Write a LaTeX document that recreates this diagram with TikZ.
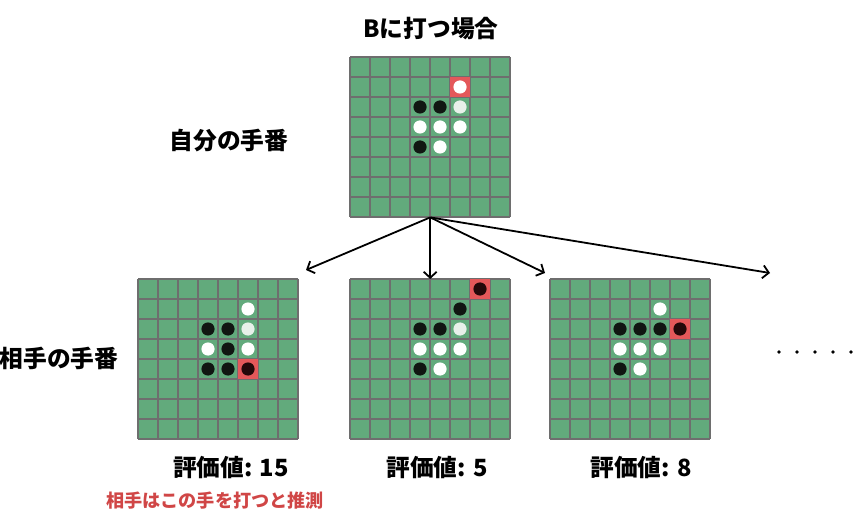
\documentclass[tikz,border=0pt]{standalone}
\usepackage{fontspec}
\newfontfamily\jp{Noto Sans CJK JP}
\usetikzlibrary{arrows.meta}
\definecolor{boardgreen}{RGB}{98,170,124}
\definecolor{gridgray}{RGB}{110,110,110}
\definecolor{cellred}{RGB}{228,88,90}
\definecolor{stoneblack}{RGB}{17,22,18}
\definecolor{stonewhite}{RGB}{255,255,255}
\definecolor{stonegrey}{RGB}{232,240,234}
\definecolor{redstone}{RGB}{36,8,10}
\definecolor{notered}{RGB}{208,70,70}
\newcommand\drawboard[3]{%
  \node[boardbox, anchor=north west] (#1) at (#2,#3) {};
  \foreach \i in {0,...,8} {
    \draw[gridline] (#2+\i*20,#3) -- (#2+\i*20,#3+160);
    \draw[gridline] (#2,#3+\i*20) -- (#2+160,#3+\i*20);
  }}
\newcommand\stone[5]{\fill[#5] (#1+#3*20+10,#2+#4*20+10) circle[radius=6.6];}
\newcommand\redcell[4]{\fill[cellred] (#1+#3*20,#2+#4*20) rectangle ++(20,20);}
\begin{document}
\begin{tikzpicture}[x=1bp,y=-1bp,
  boardbox/.style={minimum width=160bp,minimum height=160bp,inner sep=0pt,fill=boardgreen,draw=none},
  gridline/.style={draw=gridgray,line width=1.1bp},
  arr/.style={draw=black,line width=1.8bp,-{Straight Barb[length=6bp,width=13bp,line width=1.8bp]}},
  lbl/.style={font=\jp\bfseries\fontsize{23.8}{26}\selectfont,inner sep=0pt},
  note/.style={font=\jp\bfseries\fontsize{18.2}{20}\selectfont,text=notered,inner sep=0pt},
  dotmark/.style={fill=black}]
\useasboundingbox (0,0) rectangle (860,528);

% top board
\drawboard{top}{350}{57}
\redcell{350}{57}{5}{1}
\stone{350}{57}{5}{1}{stonewhite}
\stone{350}{57}{3}{2}{stoneblack}
\stone{350}{57}{4}{2}{stoneblack}
\stone{350}{57}{5}{2}{stonegrey}
\stone{350}{57}{3}{3}{stonewhite}
\stone{350}{57}{4}{3}{stonewhite}
\stone{350}{57}{5}{3}{stonewhite}
\stone{350}{57}{3}{4}{stoneblack}
\stone{350}{57}{4}{4}{stonewhite}

% bottom left board
\drawboard{bl}{138}{279}
\stone{138}{279}{5}{1}{stonewhite}
\stone{138}{279}{3}{2}{stoneblack}
\stone{138}{279}{4}{2}{stoneblack}
\stone{138}{279}{5}{2}{stonegrey}
\stone{138}{279}{3}{3}{stonewhite}
\stone{138}{279}{4}{3}{stoneblack}
\stone{138}{279}{5}{3}{stonewhite}
\stone{138}{279}{3}{4}{stoneblack}
\stone{138}{279}{4}{4}{stoneblack}
\redcell{138}{279}{5}{4}
\stone{138}{279}{5}{4}{redstone}

% bottom middle board
\drawboard{bm}{350}{279}
\redcell{350}{279}{6}{0}
\stone{350}{279}{6}{0}{redstone}
\stone{350}{279}{5}{1}{stoneblack}
\stone{350}{279}{3}{2}{stoneblack}
\stone{350}{279}{4}{2}{stoneblack}
\stone{350}{279}{5}{2}{stonegrey}
\stone{350}{279}{3}{3}{stonewhite}
\stone{350}{279}{4}{3}{stonewhite}
\stone{350}{279}{5}{3}{stonewhite}
\stone{350}{279}{3}{4}{stoneblack}
\stone{350}{279}{4}{4}{stonewhite}

% bottom right board
\drawboard{br}{550}{279}
\stone{550}{279}{5}{1}{stonewhite}
\stone{550}{279}{3}{2}{stoneblack}
\stone{550}{279}{4}{2}{stoneblack}
\stone{550}{279}{5}{2}{stoneblack}
\redcell{550}{279}{6}{2}
\stone{550}{279}{6}{2}{redstone}
\stone{550}{279}{3}{3}{stonewhite}
\stone{550}{279}{4}{3}{stonewhite}
\stone{550}{279}{5}{3}{stonewhite}
\stone{550}{279}{3}{4}{stoneblack}
\stone{550}{279}{4}{4}{stonewhite}

% arrows
\coordinate (t1) at (306,270);
\coordinate (t3) at (545,273);
\coordinate (t4) at (770,273);
\draw[arr] (top.south) -- (t1);
\draw[arr] (top.south) -- (bm.north);
\draw[arr] (top.south) -- (t3);
\draw[arr] (top.south) -- (t4);

% labels
\node[lbl] (title) at (431,29) {Bに打つ場合};
\node[lbl] (mine) at (229,141) {自分の手番};
\node[lbl] (theirs) at (59,358) {相手の手番};
\node[lbl] (v1) at (231,467) {評価値: 15};
\node[lbl] (v2) at (437,467) {評価値: 5};
\node[lbl] (v3) at (641,467) {評価値: 8};
\node[note] (guess) at (215,501) {相手はこの手を打つと推測};

% dots
\foreach \k [count=\n] in {779,797,815,833,851} {
  \fill[dotmark] (\k,352) circle[radius=1.8] coordinate (d\n);
}
\end{tikzpicture}
\end{document}
